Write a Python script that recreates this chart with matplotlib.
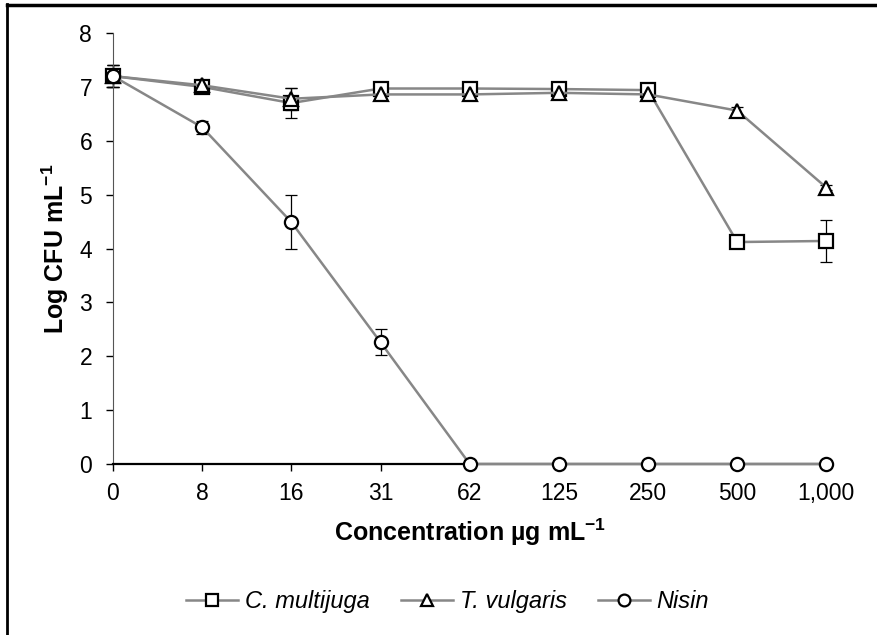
import numpy as np
import matplotlib.pyplot as plt
from matplotlib.lines import Line2D

plt.rcParams['font.family'] = ['Liberation Sans', 'DejaVu Sans']
plt.rcParams['mathtext.fontset'] = 'custom'
plt.rcParams['mathtext.rm'] = 'Liberation Sans'
plt.rcParams['mathtext.bf'] = 'Liberation Sans:bold'

# concentrations (ug/mL), shown as evenly spaced categories
conc_labels = ['0', '8', '16', '31', '62', '125', '250', '500', '1,000']

multijuga = [7.20, 7.00, 6.70, 6.97, 6.97, 6.96, 6.94, 4.12, 4.14]
multijuga_err = [0.20, 0.05, 0.28, 0.05, 0.05, 0.05, 0.05, 0.05, 0.39]

vulgaris = [7.20, 7.03, 6.78, 6.86, 6.86, 6.89, 6.86, 6.56, 5.13]
vulgaris_err = [0.20, 0.10, 0.20, 0.03, 0.03, 0.03, 0.05, 0.07, 0.05]

nisin = [7.20, 6.25, 4.49, 2.26, 0.0, 0.0, 0.0, 0.0, 0.0]
nisin_err = [0.20, 0.12, 0.50, 0.24, 0.0, 0.0, 0.0, 0.0, 0.0]

series = [
    ('C. multijuga', multijuga, multijuga_err, 's'),
    ('T. vulgaris', vulgaris, vulgaris_err, '^'),
    ('Nisin', nisin, nisin_err, 'o'),
]

fig = plt.figure(figsize=(8.78, 6.35), dpi=100)
ax = fig.add_axes([0.1287, 0.2693, 0.8125, 0.6787])

x = np.arange(len(conc_labels))
for name, vals, err, mk in series:
    eb = ax.errorbar(x, vals, yerr=err, fmt='none', ecolor='black', elinewidth=0.9,
                     capsize=4, capthick=0.9, zorder=2)
    for art in eb.lines[1] + eb.lines[2]:
        art.set_clip_on(False)
    ax.plot(x, vals, color='#878787', lw=1.8, marker=mk, ms=9.5,
            mfc='white', mec='black', mew=1.6, label=name, zorder=3, clip_on=False)

ax.set_xlim(0, len(conc_labels) - 1)
ax.set_ylim(0, 8)
ax.set_xticks(x)
ax.set_xticklabels(conc_labels)
ax.set_yticks(range(0, 9))
ax.tick_params(axis='both', labelsize=16.5, direction='out', length=5, width=1)
ax.tick_params(axis='x', pad=8)
ax.tick_params(axis='y', pad=10)
for s in ['top', 'right']:
    ax.spines[s].set_visible(False)
ax.spines['left'].set_color('#555555')
ax.spines['bottom'].set_linewidth(1.6)

ax.set_xlabel('Concentration µg mL$^{\\mathbf{-1}}$', fontsize=18, fontweight='bold', labelpad=8)
ax.set_ylabel('Log CFU mL$^{\\mathbf{-1}}$', fontsize=18, fontweight='bold', labelpad=6)

leg = fig.legend(loc='center', bbox_to_anchor=(0.51, 0.052), ncol=3, frameon=False,
                 handlelength=2.2, columnspacing=1.3, handletextpad=0.3,
                 prop={'style': 'italic', 'size': 17})
for h in leg.legend_handles:
    h.set_markersize(8.5)

# cropped frame: only left and top edges remain
fig.add_artist(Line2D([0.0085, 0.0085], [0, 0.993], transform=fig.transFigure, color='black', lw=2))
fig.add_artist(Line2D([0.0085, 1], [0.992, 0.992], transform=fig.transFigure, color='black', lw=2.5))

fig.savefig('out.png', dpi=100)
